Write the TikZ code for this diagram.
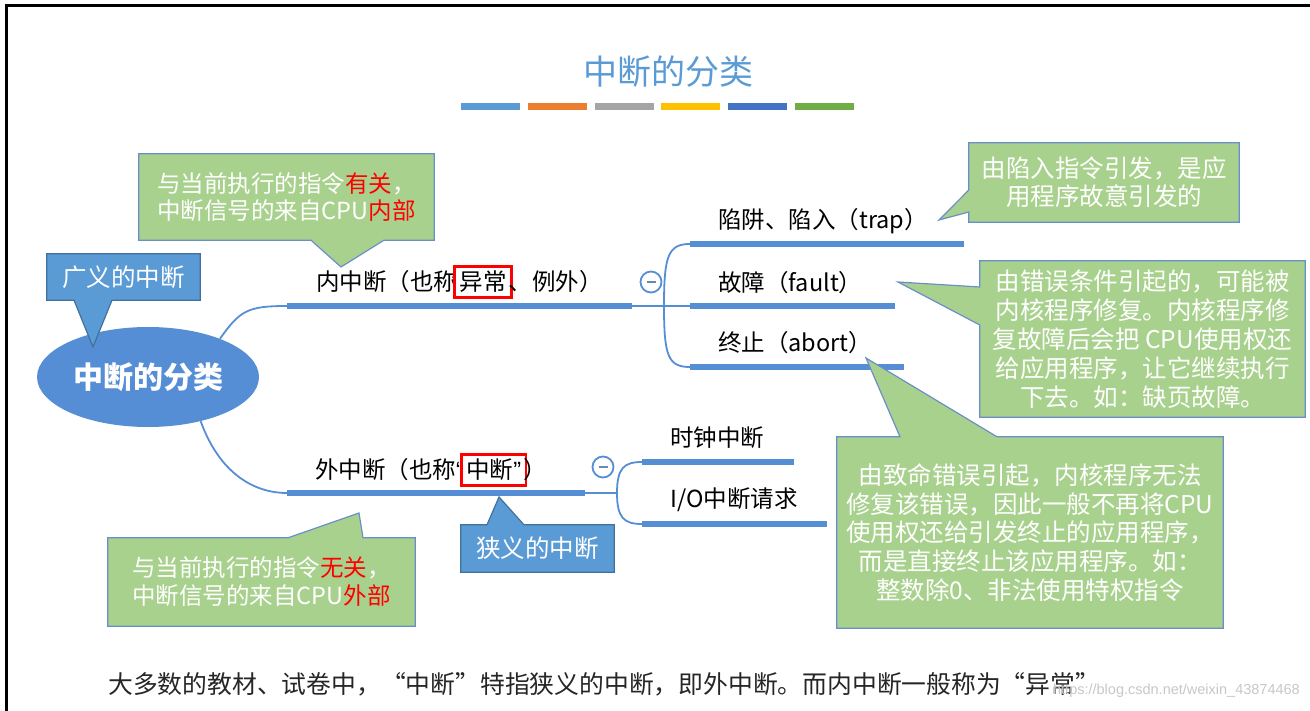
\documentclass[tikz,border=0pt]{standalone}
\usepackage{fontspec}
\setmainfont{Noto Sans CJK SC}
\newfontfamily\urlfont{Liberation Sans}
\usetikzlibrary{shapes.geometric}

\definecolor{titleblue}{HTML}{5B9BD5}
\definecolor{lineblue}{HTML}{558ED5}
\definecolor{tagblue}{HTML}{5B9BD5}
\definecolor{tagedge}{HTML}{41719C}
\definecolor{notegreen}{HTML}{A9D18E}
\definecolor{noteedge}{HTML}{6A8FC8}
\definecolor{textgray}{HTML}{262626}
\definecolor{bar1}{HTML}{5B9BD5}
\definecolor{bar2}{HTML}{ED7D31}
\definecolor{bar3}{HTML}{A5A5A5}
\definecolor{bar4}{HTML}{FFC000}
\definecolor{bar5}{HTML}{4472C4}
\definecolor{bar6}{HTML}{70AD47}

\newcommand{\fsz}[2]{\fontsize{#1}{#2}\selectfont}
\newcommand{\markbox}[1]{{\setlength{\fboxrule}{2.8pt}\setlength{\fboxsep}{3.5pt}%
  \hspace{-4pt}\color{red}\fbox{\color{black}#1}\hspace{-4pt}}}

\begin{document}
\begin{tikzpicture}[x=1pt, y=-1pt]
	\tikzset{
		lbl/.style={anchor=west, inner sep=0pt, font=\fsz{23.5}{28}},
		thickln/.style={lineblue, line width=5.5pt},
		thinln/.style={lineblue, line width=1.8pt},
		note/.style={fill=notegreen, text=white, align=center, inner sep=0pt},
		noteline/.style={draw=noteedge, line width=1.2pt, line join=miter},
		tag/.style={fill=tagblue, text=white, inner sep=0pt, font=\fsz{24.5}{29}},
		tagline/.style={draw=tagedge, line width=1.2pt},
		fold/.style={circle, draw=lineblue, fill=white, line width=1.8pt, minimum size=21pt, inner sep=0pt,
			path picture={\draw[lineblue!60!gray, line width=1.6pt]
				([xshift=-4.5pt]path picture bounding box.center) -- ([xshift=4.5pt]path picture bounding box.center);}}
	};

	\useasboundingbox (0,0) rectangle (1310,711);
	\draw[line width=3pt] (6.5,711) -- (6.5,5.5) -- (1310,5.5);

	% title and colour bars
	\node[titleblue, font=\fsz{34}{40}] (title) at (668,72) {中断的分类};
	\foreach \c [count=\i] in {bar1,bar2,bar3,bar4,bar5,bar6}
		\fill[\c] ({461+(\i-1)*66.8},103) rectangle +(59,7);

	% root
	\node[ellipse, fill=lineblue, minimum width=222pt, minimum height=100pt, text=white,
		font=\fsz{30}{36}\bfseries] (root) at (148,377) {中断的分类};

	% branch points
	\coordinate (innerL) at (287,306);
	\coordinate (innerR) at (632,306);
	\coordinate (innerJ) at (664,306);
	\coordinate (trapL) at (690,244);
	\coordinate (trapR) at (964,244);
	\coordinate (faultL) at (690,306);
	\coordinate (faultR) at (895,306);
	\coordinate (abortL) at (690,367);
	\coordinate (abortR) at (904,367);
	\coordinate (outerL) at (287,493);
	\coordinate (outerR) at (585,493);
	\coordinate (outerJ) at (617,493);
	\coordinate (clockL) at (642,462);
	\coordinate (clockR) at (794,462);
	\coordinate (ioL) at (642,524);
	\coordinate (ioR) at (827,524);

	\draw[thinln] (root.28) .. controls +(20,-28) and +(-40,0) .. (innerL);
	\draw[thinln] (root.-40) .. controls +(18,50) and +(-35,0) .. (outerL);

	\draw[thickln] (innerL) -- (innerR);
	\draw[thinln] (innerR) -- (innerJ);
	\draw[thinln] (innerJ) .. controls +(0,-50) and +(-22,0) .. (trapL);
	\draw[thinln] (innerJ) -- (faultL);
	\draw[thinln] (innerJ) .. controls +(0,50) and +(-22,0) .. (abortL);
	\draw[thickln] (trapL) -- (trapR);
	\draw[thickln] (faultL) -- (faultR);
	\draw[thickln] (abortL) -- (abortR);

	\draw[thickln] (outerL) -- (outerR);
	\draw[thinln] (outerR) -- (outerJ);
	\draw[thinln] (outerJ) .. controls +(0,-25) and +(-18,0) .. (clockL);
	\draw[thinln] (outerJ) .. controls +(0,25) and +(-18,0) .. (ioL);
	\draw[thickln] (clockL) -- (clockR);
	\draw[thickln] (ioL) -- (ioR);

	% labels
	\node[lbl] (inner) at (316,282) {内中断（也称\markbox{异常}、例外）};
	\node[lbl] (outer) at (315,470) {外中断（也称{\urlfont “}\markbox{中断{\urlfont ”}}）};
	\node[lbl] (trap) at (718,221) {陷阱、陷入（trap）};
	\node[lbl] (fault) at (718,283) {故障（fault）};
	\node[lbl] (abort) at (718,343) {终止（abort）};
	\node[lbl] (clock) at (670,438) {时钟中断};
	\node[lbl] (io) at (670,500) {I/O中断请求};

	\node[fold] (innerfold) at (651,282) {};
	\node[fold] (outerfold) at (603,467) {};

	% blue tags
	\node[tag, minimum width=153pt, minimum height=46pt] (wide) at (123.5,277) {广义的中断};
	\coordinate (widetip) at (93,347);
	\fill[tagblue] ([xshift=-49.5pt]wide.south) -- (widetip) -- ([xshift=-11.5pt]wide.south) -- cycle;
	\draw[tagline] (wide.north west) -- (wide.north east) -- (wide.south east)
		-- ([xshift=-11.5pt]wide.south) -- (widetip) -- ([xshift=-49.5pt]wide.south) -- (wide.south west) -- cycle;

	\node[tag, minimum width=153pt, minimum height=47pt] (narrow) at (537.5,548.5) {狭义的中断};
	\coordinate (narrowtip) at (499,497);
	\fill[tagblue] ([xshift=-50.5pt]narrow.north) -- (narrowtip) -- ([xshift=-13.5pt]narrow.north) -- cycle;
	\draw[tagline] (narrow.north west) -- ([xshift=-50.5pt]narrow.north) -- (narrowtip)
		-- ([xshift=-13.5pt]narrow.north) -- (narrow.north east) -- (narrow.south east) -- (narrow.south west) -- cycle;

	% green notes
	\node[note, minimum width=295pt, minimum height=86pt, font=\fsz{23.5}{27}] (innernote) at (286.5,197)
		{与当前执行的指令\textcolor{red}{有关}，\\中断信号的来自CPU\textcolor{red}{内部}};
	\coordinate (innertip) at (341,267);
	\fill[notegreen] ([xshift=24.5pt]innernote.south) -- (innertip) -- ([xshift=97.5pt]innernote.south) -- cycle;
	\draw[noteline] (innernote.north west) -- (innernote.north east) -- (innernote.south east)
		-- ([xshift=97.5pt]innernote.south) -- (innertip) -- ([xshift=24.5pt]innernote.south) -- (innernote.south west) -- cycle;

	\node[note, minimum width=307pt, minimum height=88pt, font=\fsz{23.5}{28}] (outernote) at (261.5,582)
		{与当前执行的指令\textcolor{red}{无关}，\\中断信号的来自CPU\textcolor{red}{外部}};
	\coordinate (outertip) at (359,513);
	\fill[notegreen] ([xshift=26.5pt]outernote.north) -- (outertip) -- ([xshift=101.5pt]outernote.north) -- cycle;
	\draw[noteline] (outernote.north west) -- ([xshift=26.5pt]outernote.north) -- (outertip)
		-- ([xshift=101.5pt]outernote.north) -- (outernote.north east) -- (outernote.south east) -- (outernote.south west) -- cycle;

	\node[note, minimum width=270pt, minimum height=79pt, font=\fsz{24.5}{28}] (trapnote) at (1104,182.5)
		{由陷入指令引发，是应\\用程序故意引发的};
	\coordinate (traptip) at (939,220);
	\fill[notegreen] ([yshift=-7.5pt]trapnote.west) -- (traptip) -- ([yshift=-29.5pt]trapnote.west) -- cycle;
	\draw[noteline] (trapnote.north west) -- (trapnote.north east) -- (trapnote.south east) -- (trapnote.south west)
		-- ([yshift=-29.5pt]trapnote.west) -- (traptip) -- ([yshift=-7.5pt]trapnote.west) -- cycle;

	\node[note, minimum width=325pt, minimum height=156pt, font=\fsz{24.5}{29}] (faultnote) at (1142.5,339)
		{由错误条件引起的，可能被\\内核程序修复。内核程序修\\复故障后会把 CPU使用权还\\给应用程序，让它继续执行\\下去。如：缺页故障。};
	\coordinate (faulttip) at (898,282);
	\fill[notegreen] ([yshift=52pt]faultnote.west) -- (faulttip) -- ([yshift=14pt]faultnote.west) -- cycle;
	\draw[noteline] (faultnote.north west) -- (faultnote.north east) -- (faultnote.south east) -- (faultnote.south west)
		-- ([yshift=14pt]faultnote.west) -- (faulttip) -- ([yshift=52pt]faultnote.west) -- cycle;

	\node[note, minimum width=386pt, minimum height=191pt, font=\fsz{24.5}{28.8}] (abortnote) at (1030,532.5)
		{由致命错误引起，内核程序无法\\修复该错误，因此一般不再将CPU\\使用权还给引发终止的应用程序，\\而是直接终止该应用程序。如：\\整数除0、非法使用特权指令};
	\coordinate (aborttip) at (866,358);
	\fill[notegreen] ([xshift=-130pt]abortnote.north) -- (aborttip) -- ([xshift=-33pt]abortnote.north) -- cycle;
	\draw[noteline] (abortnote.north west) -- ([xshift=-130pt]abortnote.north) -- (aborttip)
		-- ([xshift=-33pt]abortnote.north) -- (abortnote.north east) -- (abortnote.south east) -- (abortnote.south west) -- cycle;

	% footer
	\node[anchor=west, inner sep=0pt, text=textgray, font=\fsz{24.8}{29}] (summary) at (108,684)
		{大多数的教材、试卷中，“中断”特指狭义的中断，即外中断。而内中断一般称为“异常”};
	\node[anchor=east, inner sep=0pt, text=black!22, font=\urlfont\fsz{14.5}{17}] (mark) at (1300,691)
		{https://blog.csdn.net/weixin\_43874468};

\end{tikzpicture}
\end{document}
